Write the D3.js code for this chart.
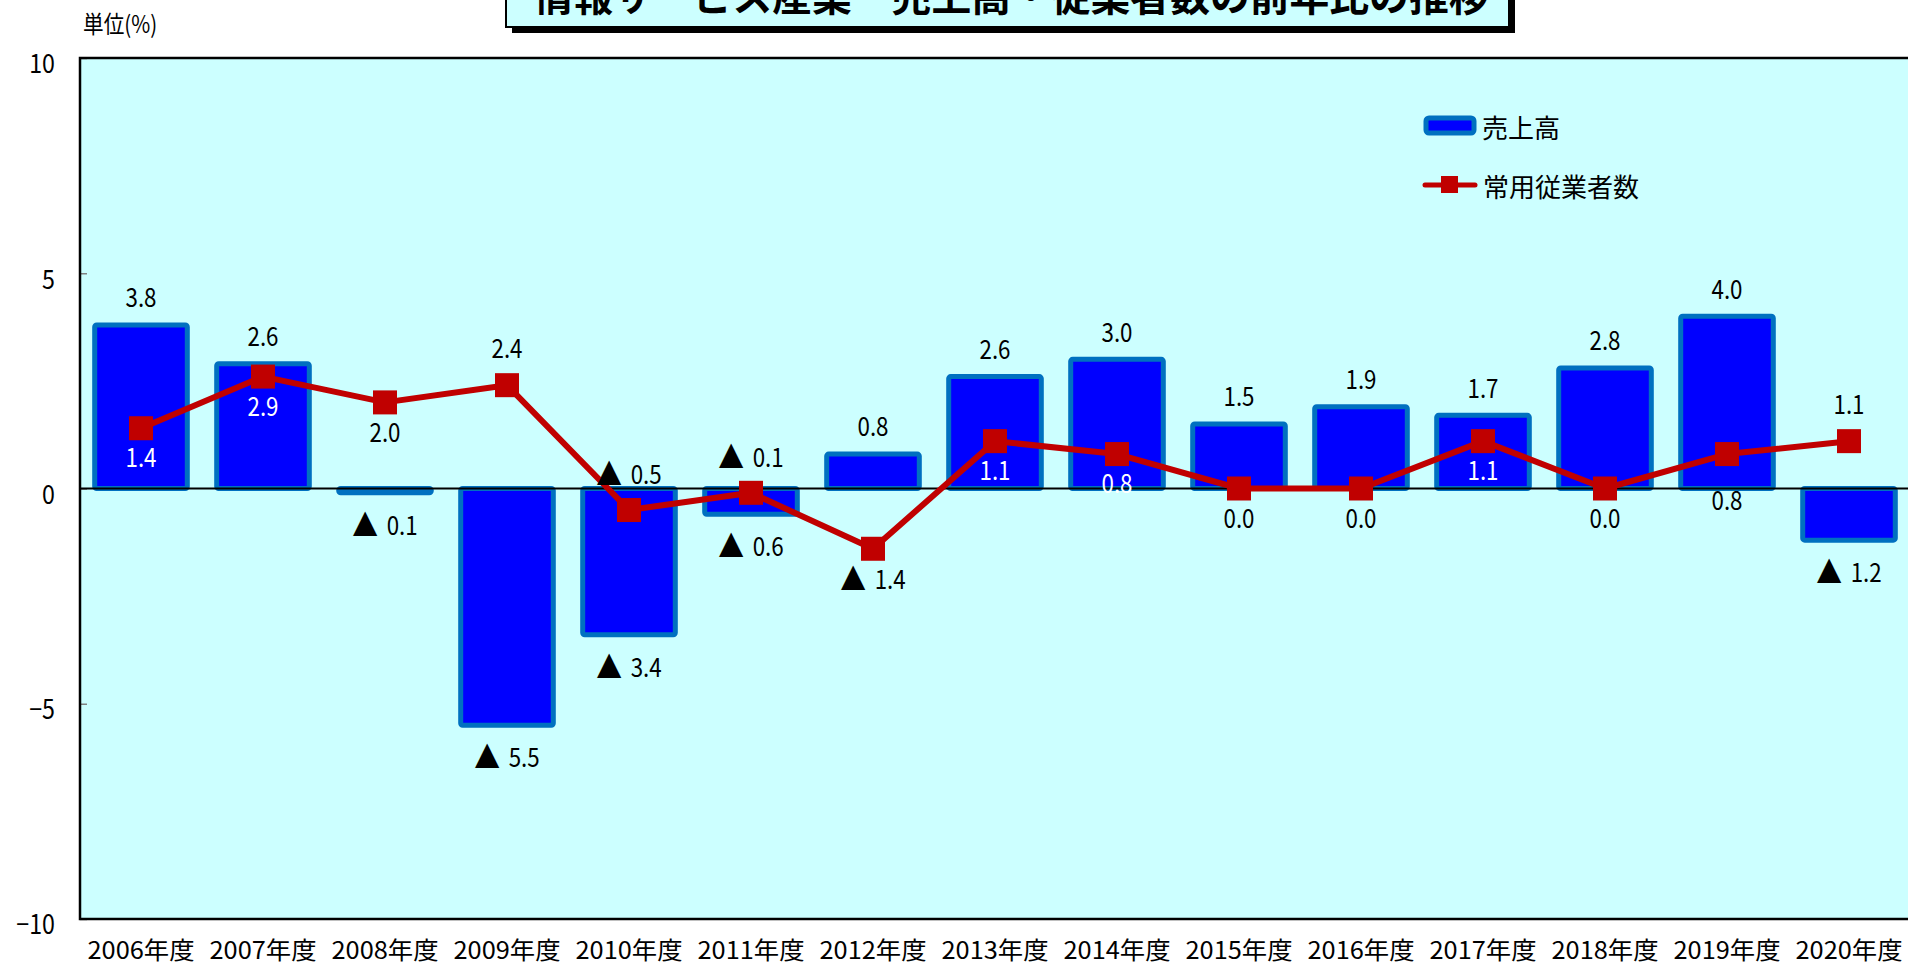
<!DOCTYPE html>
<html>
<head>
<meta charset="utf-8">
<script src="https://cdn.jsdelivr.net/npm/d3@7"></script>
<style>
  html, body { margin: 0; padding: 0; background: #fff; }
  svg { display: block; font-family: "Noto Sans CJK JP", "Noto Sans", sans-serif; }
</style>
</head>
<body>
<svg class="svg"></svg>
<script>
// data
const years = ['2006年度', '2007年度', '2008年度', '2009年度', '2010年度', '2011年度', '2012年度', '2013年度',
  '2014年度', '2015年度', '2016年度', '2017年度', '2018年度', '2019年度', '2020年度'];
const sales = [3.8, 2.9, -0.1, -5.5, -3.4, -0.6, 0.8, 2.6, 3.0, 1.5, 1.9, 1.7, 2.8, 4.0, -1.2];
const employees = [1.4, 2.6, 2.0, 2.4, -0.5, -0.1, -1.4, 1.1, 0.8, 0.0, 0.0, 1.1, 0.0, 0.8, 1.1];
// labels as printed on the original (2007 is printed swapped)
const salesLabels = ['3.8', '2.6', '▲ 0.1', '▲ 5.5', '▲ 3.4', '▲ 0.6', '0.8', '2.6', '3.0', '1.5', '1.9', '1.7', '2.8', '4.0', '▲ 1.2'];
const employeeLabels = ['1.4', '2.9', '2.0', '2.4', '▲ 0.5', '▲ 0.1', '▲ 1.4', '1.1', '0.8', '0.0', '0.0', '1.1', '0.0', '0.8', '1.1'];
// where the employee label sits: a = above point, b = below point, z = just under the zero line
const employeeLabelSide = ['b', 'b', 'b', 'a', 'a', 'a', 'b', 'b', 'b', 'b', 'b', 'b', 'b', 'z', 'a'];
const yTicks = [-10, -5, 0, 5, 10];
const seriesNames = ['売上高', '常用従業者数'];
const title = '情報サービス産業　売上高・従業者数の前年比の推移';

const width = 1908;
const height = 965;
const plot = { left: 80, right: 1910, top: 58, bottom: 919 };

const barFill = '#0000ff';
const barStroke = '#0070c0';
const lineColor = '#c00000';
const plotBg = '#ccffff';
const narrow = 0.86; // the original font is narrower than Noto

const svg = d3.select('.svg').attr('width', width).attr('height', height);

const x = d3.scaleBand().domain(years).range([plot.left, plot.right])
  .paddingInner(0.2).paddingOuter(0.1);
const y = d3.scaleLinear().domain([-10, 10]).range([plot.bottom, plot.top]);
const cx = (d, i) => x(years[i]) + x.bandwidth() / 2;

// title box, cut off at the top of the picture
const tg = svg.append('g');
tg.append('rect').attr('x', 512).attr('y', -40).attr('width', 1003).attr('height', 73).attr('fill', '#000');
tg.append('rect').attr('x', 506).attr('y', -40).attr('width', 1003).attr('height', 67)
  .attr('fill', plotBg).attr('stroke', '#000').attr('stroke-width', 2);
tg.append('text').attr('x', 1011).attr('y', 11).attr('text-anchor', 'middle')
  .attr('font-size', 40).attr('font-weight', 'bold')
  .attr('textLength', 955).attr('lengthAdjust', 'spacingAndGlyphs')
  .text(title);

svg.append('text').attr('transform', `translate(83,22) scale(${narrow},1)`)
  .attr('dominant-baseline', 'central')
  .attr('font-size', 24).text('単位(%)');

// plot area
svg.append('rect')
  .attr('x', plot.left).attr('y', plot.top)
  .attr('width', plot.right - plot.left).attr('height', plot.bottom - plot.top)
  .attr('fill', plotBg);

// y axis
const yAxis = svg.append('g')
  .attr('transform', `translate(${plot.left},0)`)
  .call(d3.axisLeft(y).tickValues(yTicks).tickSize(-7).tickPadding(25).tickFormat(d3.format('d')));
yAxis.select('.domain').remove();
yAxis.selectAll('.tick line').attr('stroke', '#808080').attr('stroke-width', 1.5);
yAxis.selectAll('.tick text')
  .attr('x', null).attr('dy', null)
  .attr('transform', `translate(-25,3) scale(${narrow},1)`)
  .attr('dominant-baseline', 'central')
  .attr('font-size', 27).attr('fill', '#000')
  .attr('font-family', '"Noto Sans CJK JP", sans-serif');

// bars
svg.append('g').selectAll('rect')
  .data(sales)
  .join('rect')
  .attr('x', (d, i) => x(years[i]) + 2.5)
  .attr('width', x.bandwidth() - 5)
  .attr('y', d => y(Math.max(d, 0)))
  .attr('height', d => Math.abs(y(d) - y(0)))
  .attr('rx', 2)
  .attr('fill', barFill)
  .attr('stroke', barStroke)
  .attr('stroke-width', 5);

// zero line
svg.append('line')
  .attr('x1', plot.left).attr('x2', plot.right)
  .attr('y1', y(0)).attr('y2', y(0))
  .attr('stroke', '#000').attr('stroke-width', 2);

// employees line
svg.append('path')
  .datum(employees)
  .attr('fill', 'none')
  .attr('stroke', lineColor)
  .attr('stroke-width', 6)
  .attr('stroke-linejoin', 'round')
  .attr('d', d3.line().x(cx).y(d => y(d)));

svg.append('g').selectAll('rect')
  .data(employees)
  .join('rect')
  .attr('x', (d, i) => cx(d, i) - 12)
  .attr('y', d => y(d) - 12)
  .attr('width', 24).attr('height', 24)
  .attr('fill', lineColor);

// "▲ 1.2" style labels: triangle drawn a bit bigger with a gap, like the original
function writeLabel(sel, label) {
  if (label.startsWith('▲')) {
    sel.append('tspan').attr('font-size', 30).text('▲');
    sel.append('tspan').attr('dx', 10).text(label.slice(1).trim());
  } else {
    sel.text(label);
  }
}

// bar labels
svg.append('g').selectAll('text')
  .data(sales)
  .join('text')
  .attr('transform', (d, i) => `translate(${cx(d, i)},${d >= 0 ? y(d) - 29 : y(d) + 30}) scale(${narrow},1)`)
  .attr('text-anchor', 'middle')
  .attr('dominant-baseline', 'central')
  .attr('font-size', 26)
  .each(function(d, i) { writeLabel(d3.select(this), salesLabels[i]); });

// employee labels
function empLabelY(d, i) {
  const side = employeeLabelSide[i];
  if (side === 'a') return y(d) - 38;
  if (side === 'z') return y(0) + 10;
  return y(d) + 28;
}
svg.append('g').selectAll('text')
  .data(employees)
  .join('text')
  .attr('transform', (d, i) => `translate(${cx(d, i)},${empLabelY(d, i)}) scale(${narrow},1)`)
  .attr('text-anchor', 'middle')
  .attr('dominant-baseline', 'central')
  .attr('font-size', 26)
  .attr('fill', (d, i) => {
    const ly = empLabelY(d, i);
    const s = sales[i];
    return s > 0 && ly > y(s) && ly < y(0) ? '#fff' : '#000';
  })
  .each(function(d, i) { writeLabel(d3.select(this), employeeLabels[i]); });

// plot border
svg.append('rect')
  .attr('x', plot.left).attr('y', plot.top)
  .attr('width', plot.right - plot.left).attr('height', plot.bottom - plot.top)
  .attr('fill', 'none').attr('stroke', '#000').attr('stroke-width', 2.5);

// x labels
svg.append('g').selectAll('text')
  .data(years)
  .join('text')
  .attr('x', d => x(d) + x.bandwidth() / 2)
  .attr('y', 948)
  .attr('text-anchor', 'middle')
  .attr('dominant-baseline', 'central')
  .attr('font-size', 24)
  .attr('textLength', 107)
  .attr('lengthAdjust', 'spacingAndGlyphs')
  .text(d => d);

// legend
const lg = svg.append('g');
lg.append('rect').attr('x', 1426).attr('y', 118).attr('width', 48).attr('height', 15).attr('rx', 3)
  .attr('fill', barFill).attr('stroke', barStroke).attr('stroke-width', 5);
lg.append('text').attr('x', 1482).attr('y', 126).attr('dominant-baseline', 'central')
  .attr('font-size', 26).text(seriesNames[0]);
lg.append('line').attr('x1', 1425).attr('x2', 1475).attr('y1', 185).attr('y2', 185)
  .attr('stroke', lineColor).attr('stroke-width', 5).attr('stroke-linecap', 'round');
lg.append('rect').attr('x', 1441).attr('y', 176).attr('width', 17).attr('height', 17).attr('fill', lineColor);
lg.append('text').attr('x', 1483).attr('y', 185).attr('dominant-baseline', 'central')
  .attr('font-size', 26).text(seriesNames[1]);
</script>
</body>
</html>
